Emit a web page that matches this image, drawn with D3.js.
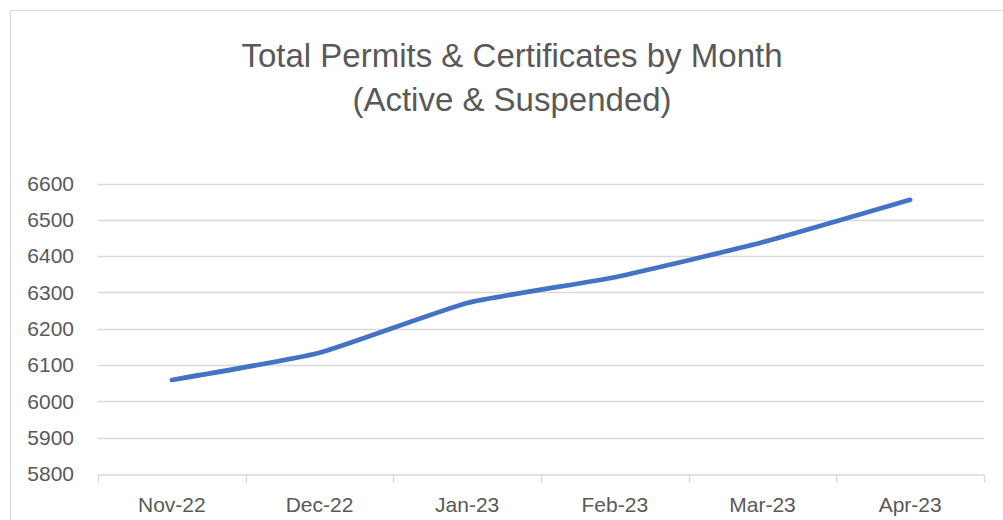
<!DOCTYPE html>
<html><head><meta charset="utf-8">
<script src="https://cdn.jsdelivr.net/npm/d3@7"></script>
<style>
html,body{margin:0;padding:0;background:#fff;overflow:hidden;}
text{font-family:"Liberation Sans",Arial,sans-serif;}
</style></head>
<body><svg id="chart" width="1003" height="520"></svg>
<script>
const months = ["Nov-22","Dec-22","Jan-23","Feb-23","Mar-23","Apr-23"];
const totals = [6059, 6134, 6271, 6342, 6438, 6555];
const yTicks = [5800,5900,6000,6100,6200,6300,6400,6500,6600];
const titleLines = ["Total Permits & Certificates by Month","(Active & Suspended)"];

const svg = d3.select("#chart");
const m = {left:98, right:984, top:183.5, bottom:474};

svg.append("rect").attr("x",10.5).attr("y",10.5).attr("width",1100).attr("height",600)
  .attr("fill","#fff").attr("stroke","#d9d9d9").attr("stroke-width",1);

const x = d3.scaleBand().domain(months).range([m.left, m.right]).paddingInner(0).paddingOuter(0);
const y = d3.scaleLinear().domain([5800,6600]).range([m.bottom, m.top]);

// gridlines
svg.append("g").selectAll("line").data(yTicks.filter(t=>t>5800)).join("line")
  .attr("x1",m.left).attr("x2",m.right)
  .attr("y1",d=>Math.round(y(d))+0.5).attr("y2",d=>Math.round(y(d))+0.5)
  .attr("stroke","#d9d9d9").attr("stroke-width",1.3);

// y labels
svg.append("g").selectAll("text").data(yTicks).join("text")
  .attr("x",74).attr("y",d=>y(d)).attr("dy","0.35em")
  .attr("text-anchor","end").attr("font-size",21).attr("fill","#595959")
  .text(d=>d);

// x axis
const xAxis = d3.axisBottom(x).tickSize(0).tickPadding(0).tickFormat("");
const gx = svg.append("g").attr("transform",`translate(0,${Math.round(m.bottom)+0.5})`).call(xAxis);
gx.select(".domain").attr("stroke","#d9d9d9").attr("stroke-width",1.3);
const bounds = months.map(d=>x(d)).concat([x(months[months.length-1])+x.bandwidth()]);
gx.selectAll(".bnd").data(bounds).join("line").attr("class","bnd")
  .attr("x1",d=>Math.round(d)+0.5).attr("x2",d=>Math.round(d)+0.5)
  .attr("y1",0).attr("y2",8).attr("stroke","#d9d9d9").attr("stroke-width",1.3);
svg.append("g").selectAll("text").data(months).join("text")
  .attr("x",d=>x(d)+x.bandwidth()/2).attr("y",512)
  .attr("text-anchor","middle").attr("font-size",21).attr("fill","#595959")
  .text(d=>d);

// line
const line = d3.line()
  .x((d,i)=>x(months[i])+x.bandwidth()/2)
  .y(d=>y(d))
  .curve(d3.curveCardinal.tension(0.55));
svg.append("path").datum(totals).attr("d",line)
  .attr("fill","none").attr("stroke","#4472C4").attr("stroke-width",4.7)
  .attr("stroke-linecap","round").attr("stroke-linejoin","round");

// title
svg.append("g").selectAll("text").data(titleLines).join("text")
  .attr("x",512).attr("y",(d,i)=>67+i*44)
  .attr("text-anchor","middle").attr("font-size",33).attr("fill","#595959")
  .text(d=>d);
</script></body></html>
